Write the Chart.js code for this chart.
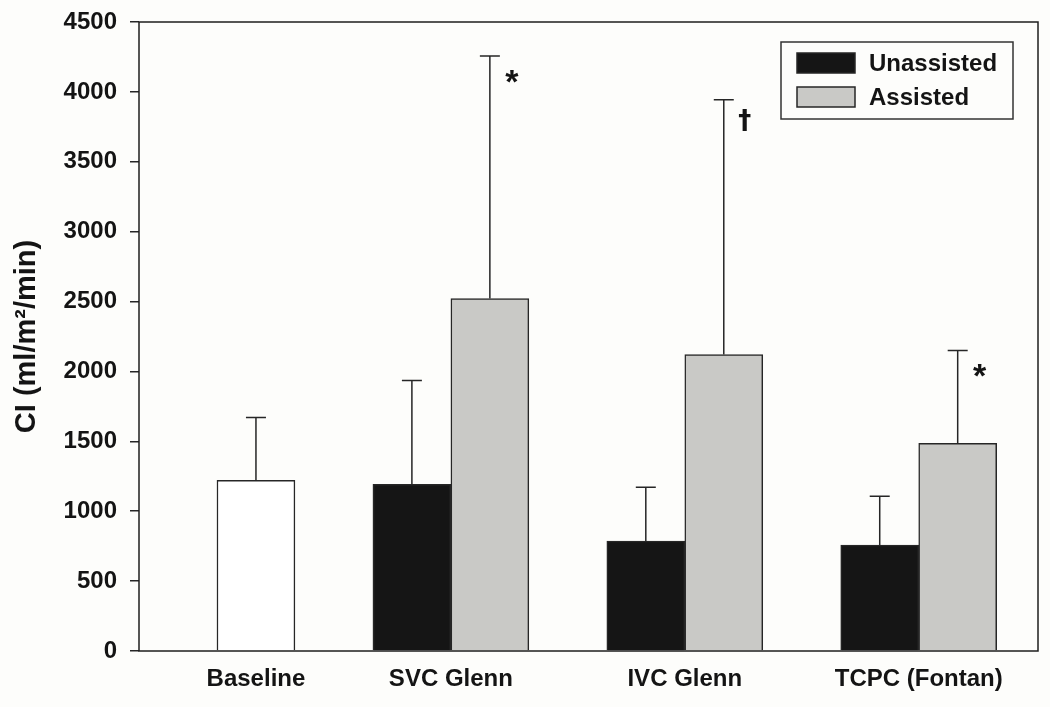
<!DOCTYPE html>
<html>
<head>
<meta charset="utf-8">
<title>CI by stage</title>
<script src="https://cdn.jsdelivr.net/npm/chart.js@4.4.1/dist/chart.umd.min.js"></script>
<style>
  html, body { margin: 0; padding: 0; background: #fdfdfb; }
  #wrap { width: 1050px; height: 707px; position: relative; }
</style>
</head>
<body>
<div id="wrap"><canvas id="chart"></canvas></div>
<script>
// Values (ml/m2/min). null = no bar in that group.
const groups = ['Baseline', 'SVC Glenn', 'IVC Glenn', 'TCPC (Fontan)'];
const baselineMean   = [1221, null, null, null];
const baselineSD     = [450, null, null, null];
const unassistedMean = [null, 1193, 786, 757];
const unassistedSD   = [null, 743, 385, 350];
const assistedMean   = [null, 2521, 2121, 1486];
const assistedSD     = [null, 1736, 1822, 664];
const assistedMarks  = ['', '*', '\u2020', '*'];
const yTickValues = [0, 500, 1000, 1500, 2000, 2500, 3000, 3500, 4000, 4500];

// layout: group centres on the x axis, in bar-width units
const groupCenter = [1.5, 4, 7, 10];
const FONT = "'Liberation Sans', Arial, sans-serif";
const INK = '#141414';

function points(means, shift) {
    const out = [];
    means.forEach((v, i) => {
        if (v !== null) out.push({ x: groupCenter[i] + shift, y: v });
    });
    return out;
}
function sdFor(means, sds) {
    return sds.filter((v, i) => means[i] !== null);
}
function marksFor(means, marks) {
    return marks.filter((v, i) => means[i] !== null);
}

const barStyle = {
    borderColor: '#262626',
    borderWidth: 1.5,
    borderSkipped: 'bottom',
    grouped: false,
    barPercentage: 1,
    categoryPercentage: 1
};

const datasets = [
    Object.assign({ label: 'Baseline', data: points(baselineMean, 0), backgroundColor: '#ffffff',
        sd: sdFor(baselineMean, baselineSD), inLegend: false }, barStyle),
    Object.assign({ label: 'Unassisted', data: points(unassistedMean, -0.5), backgroundColor: '#151515',
        sd: sdFor(unassistedMean, unassistedSD), inLegend: true }, barStyle),
    Object.assign({ label: 'Assisted', data: points(assistedMean, 0.5), backgroundColor: '#c9c9c6',
        sd: sdFor(assistedMean, assistedSD), marks: marksFor(assistedMean, assistedMarks), inLegend: true }, barStyle)
];

const background = {
    id: 'background',
    beforeDraw(chart) {
        const ctx = chart.ctx;
        ctx.save();
        ctx.fillStyle = '#fdfdfb';
        ctx.fillRect(0, 0, chart.width, chart.height);
        ctx.restore();
    }
};

// frame round the plot, error bars, significance marks, legend
const extras = {
    id: 'extras',
    afterDatasetsDraw(chart) {
        const ctx = chart.ctx;
        const y = chart.scales.y;
        const a = chart.chartArea;
        ctx.save();

        ctx.strokeStyle = '#262626';
        ctx.lineWidth = 1.5;
        chart.data.datasets.forEach((ds, di) => {
            const meta = chart.getDatasetMeta(di);
            meta.data.forEach((bar, i) => {
                const top = y.getPixelForValue(ds.data[i].y + ds.sd[i]);
                ctx.beginPath();
                ctx.moveTo(bar.x, bar.y);
                ctx.lineTo(bar.x, top);
                ctx.moveTo(bar.x - 10, top);
                ctx.lineTo(bar.x + 10, top);
                ctx.stroke();

                const mark = ds.marks ? ds.marks[i] : '';
                if (mark) {
                    ctx.fillStyle = INK;
                    ctx.textAlign = 'center';
                    ctx.textBaseline = 'alphabetic';
                    if (mark === '*') {
                        ctx.font = 'bold 34px ' + FONT;
                        ctx.fillText(mark, bar.x + 22, top + 37);
                    } else {
                        ctx.font = "bold 26px 'DejaVu Sans', sans-serif";
                        ctx.fillText(mark, bar.x + 21, top + 29);
                    }
                }
            });
        });

        // frame
        ctx.strokeStyle = '#1e1e1e';
        ctx.lineWidth = 1.5;
        ctx.strokeRect(a.left, a.top, a.right - a.left, a.bottom - a.top);

        // legend
        const bx = a.right - 257, by = a.top + 20;
        ctx.fillStyle = '#fdfdfb';
        ctx.fillRect(bx, by, 232, 77);
        ctx.strokeStyle = '#333';
        ctx.lineWidth = 1.5;
        ctx.strokeRect(bx, by, 232, 77);
        let row = 0;
        chart.data.datasets.forEach(ds => {
            if (!ds.inLegend) return;
            const sy = by + 11 + row * 34;
            ctx.fillStyle = ds.backgroundColor;
            ctx.fillRect(bx + 16, sy, 58, 20);
            ctx.strokeStyle = '#262626';
            ctx.strokeRect(bx + 16, sy, 58, 20);
            ctx.fillStyle = INK;
            ctx.font = 'bold 24px ' + FONT;
            ctx.textAlign = 'left';
            ctx.textBaseline = 'middle';
            ctx.fillText(ds.label, bx + 88, sy + 11);
            row++;
        });
        ctx.restore();
    }
};

new Chart(document.getElementById('chart').getContext('2d'), {
    type: 'bar',
    data: { datasets },
    options: {
        responsive: true,
        maintainAspectRatio: false,
        animation: false,
        layout: { padding: { top: 22, right: 12, left: 0, bottom: 0 } },
        plugins: {
            legend: { display: false },
            tooltip: { enabled: false }
        },
        scales: {
            x: {
                type: 'linear',
                offset: false,
                min: 0,
                max: 11.53,
                afterBuildTicks: scale => { scale.ticks = groupCenter.map(v => ({ value: v })); },
                afterFit: scale => { scale.height = 56; },
                grid: { display: false, drawTicks: false },
                border: { display: false },
                ticks: {
                    autoSkip: false,
                    maxRotation: 0,
                    padding: 14,
                    color: INK,
                    font: { family: FONT, size: 24, weight: 'bold' },
                    callback: value => groups[groupCenter.indexOf(value)] || ''
                }
            },
            y: {
                min: 0,
                max: 4500,
                afterBuildTicks: scale => { scale.ticks = yTickValues.map(v => ({ value: v })); },
                afterFit: scale => { scale.width = 139; scale.paddingTop = 0; },
                grid: { drawOnChartArea: false, tickLength: 9, color: '#262626', lineWidth: 1.5 },
                border: { display: false },
                ticks: {
                    padding: 13,
                    color: INK,
                    font: { family: FONT, size: 24, weight: 'bold' },
                    callback: value => String(value)
                },
                title: {
                    display: true,
                    text: 'CI (ml/m\u00B2/min)',
                    color: INK,
                    padding: { top: 10, bottom: 0 },
                    font: { family: FONT, size: 29, weight: 'bold' }
                }
            }
        }
    },
    plugins: [background, extras]
});
</script>
</body>
</html>
